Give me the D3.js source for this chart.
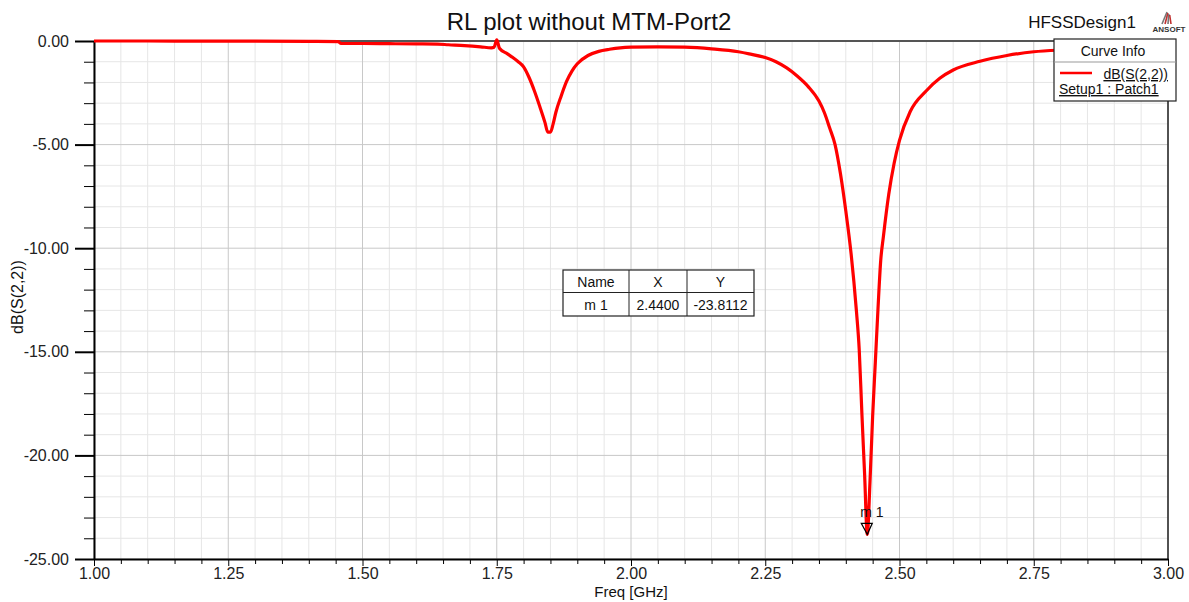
<!DOCTYPE html>
<html>
<head>
<meta charset="utf-8">
<style>
  body { margin: 0; background: #fff; }
  svg { font-family: "Liberation Sans", Arial, sans-serif; }
  .grid-minor line { stroke: #e6e6e6; stroke-width: 1; }
  .grid-major line { stroke: #c8c8c8; stroke-width: 1; }
  .axis text { font-size: 16px; fill: #222; }
  .axis path, .axis line { stroke: #000; }
</style>
</head>
<body>
<script src="https://d3js.org/d3.v7.min.js"></script>
<script>
// frequency points [GHz]
var freq = [1.00, 1.10, 1.20, 1.30, 1.40, 1.455, 1.46, 1.50, 1.55, 1.60, 1.64, 1.66, 1.69, 1.72, 1.74, 1.745,
            1.75, 1.755, 1.77, 1.78, 1.79, 1.80, 1.81, 1.82, 1.83, 1.84, 1.845, 1.85, 1.855, 1.86, 1.87, 1.88,
            1.89, 1.90, 1.92, 1.94, 1.96, 1.98, 2.00, 2.05, 2.10, 2.15, 2.20, 2.22, 2.25, 2.27, 2.29, 2.31,
            2.33, 2.35, 2.36, 2.37, 2.38, 2.39, 2.40, 2.41, 2.415, 2.42, 2.425, 2.43, 2.435, 2.44, 2.445, 2.45,
            2.455, 2.46, 2.465, 2.47, 2.48, 2.49, 2.50, 2.52, 2.55, 2.575, 2.60, 2.65, 2.70, 2.75, 2.80, 2.90, 3.00];
// dB(S(2,2))
var s22 = [0.00, 0.00, -0.01, -0.01, -0.02, -0.03, -0.12, -0.12, -0.13, -0.14, -0.15, -0.18, -0.22, -0.28, -0.33, -0.30,
           0.05, -0.35, -0.62, -0.80, -1.00, -1.25, -1.75, -2.40, -3.15, -3.95, -4.40, -4.40, -4.00, -3.45, -2.65, -1.95,
           -1.45, -1.10, -0.70, -0.50, -0.40, -0.33, -0.30, -0.28, -0.30, -0.38, -0.52, -0.62, -0.80, -1.00, -1.30, -1.70,
           -2.20, -2.90, -3.45, -4.20, -5.00, -6.40, -8.20, -10.30, -11.60, -13.10, -14.90, -18.00, -20.90, -23.81, -21.30, -18.10,
           -15.50, -12.90, -10.60, -9.44, -7.40, -5.90, -4.80, -3.40, -2.40, -1.80, -1.40, -0.98, -0.70, -0.52, -0.44, -0.38, -0.35];

var xMajor = [1.00, 1.25, 1.50, 1.75, 2.00, 2.25, 2.50, 2.75, 3.00];
var yMajor = [0, -5, -10, -15, -20, -25];
var marker = {name: "m 1", x: 2.44, y: -23.8112};

var W = 1189, H = 602;
var margin = {left: 94, top: 41, right: 21, bottom: 43};
var iw = W - margin.left - margin.right, ih = H - margin.top - margin.bottom;

var svg = d3.select("body").append("svg").attr("width", W).attr("height", H);
var g = svg.append("g").attr("transform", "translate(" + margin.left + "," + margin.top + ")");

var x = d3.scaleLinear().domain([1, 3]).range([0, iw]);
var y = d3.scaleLinear().domain([-25, 0]).range([ih, 0]);

var xMinor = d3.range(1, 3.0001, 0.05).filter(function(v) { return Math.abs((v - 1) / 0.25 - Math.round((v - 1) / 0.25)) > 1e-6; });
var yMinor = d3.range(-25, 0.001, 1).filter(function(v) { return v % 5 !== 0; });

// grid
var gmin = g.append("g").attr("class", "grid-minor");
gmin.selectAll(".vx").data(xMinor).enter().append("line")
  .attr("x1", function(d) { return x(d); }).attr("x2", function(d) { return x(d); })
  .attr("y1", 0).attr("y2", ih);
gmin.selectAll(".hy").data(yMinor).enter().append("line")
  .attr("y1", function(d) { return y(d); }).attr("y2", function(d) { return y(d); })
  .attr("x1", 0).attr("x2", iw);
var gmaj = g.append("g").attr("class", "grid-major");
gmaj.selectAll(".vx").data(xMajor).enter().append("line")
  .attr("x1", function(d) { return x(d); }).attr("x2", function(d) { return x(d); })
  .attr("y1", 0).attr("y2", ih);
gmaj.selectAll(".hy").data(yMajor).enter().append("line")
  .attr("y1", function(d) { return y(d); }).attr("y2", function(d) { return y(d); })
  .attr("x1", 0).attr("x2", iw);

// frame top / right
g.append("line").attr("x1", 0).attr("x2", iw).attr("y1", 0).attr("y2", 0).attr("stroke", "#555").attr("stroke-width", 2);
g.append("line").attr("x1", iw).attr("x2", iw).attr("y1", 0).attr("y2", ih).attr("stroke", "#222").attr("stroke-width", 1.5);

// axes
var fmt = function(d) { return d.toFixed(2); };
g.append("g").attr("class", "axis").attr("transform", "translate(0," + ih + ")")
  .call(d3.axisBottom(x).tickValues(xMinor).tickSize(5).tickFormat(""))
  .call(function(a) { a.select(".domain").remove(); });
g.append("g").attr("class", "axis").attr("transform", "translate(0," + ih + ")")
  .call(d3.axisBottom(x).tickValues(xMajor).tickSize(7).tickSizeOuter(0).tickPadding(2).tickFormat(fmt))
  .call(function(a) { a.select(".domain").attr("stroke-width", 2); });
g.append("g").attr("class", "axis")
  .call(d3.axisLeft(y).tickValues(yMinor).tickSize(10).tickFormat(""))
  .call(function(a) { a.select(".domain").remove(); });
g.append("g").attr("class", "axis")
  .call(d3.axisLeft(y).tickValues(yMajor).tickSize(19).tickSizeOuter(0).tickPadding(6).tickFormat(fmt))
  .call(function(a) { a.select(".domain").attr("stroke-width", 2); a.selectAll(".tick line").attr("stroke", "#444").attr("stroke-width", 2); });

// curve
var data = freq.map(function(f, i) { return [f, s22[i]]; });
g.append("path").datum(data)
  .attr("fill", "none").attr("stroke", "#ff0000").attr("stroke-width", 3.2).attr("stroke-linejoin", "round")
  .attr("d", d3.line().curve(d3.curveMonotoneX).x(function(d) { return x(d[0]); }).y(function(d) { return y(d[1]); }));

// marker
var mx = x(marker.x), my = y(marker.y);
g.append("path").attr("d", "M" + (mx - 6) + "," + (my - 11) + "L" + (mx + 5) + "," + (my - 11) + "L" + mx + "," + my + "Z")
  .attr("fill", "none").attr("stroke", "#000").attr("stroke-width", 1.2);
g.append("text").attr("x", mx - 7).attr("y", my - 17).attr("font-size", 14).attr("fill", "#111").text(marker.name);

// marker table
var tb = svg.append("g").attr("transform", "translate(563,270)");
var colX = [0, 66, 124, 191];
tb.append("rect").attr("width", 191).attr("height", 46).attr("fill", "#fff").attr("stroke", "#222").attr("stroke-width", 1.2);
tb.append("line").attr("x1", 0).attr("x2", 191).attr("y1", 22.5).attr("y2", 22.5).attr("stroke", "#222");
[66, 124].forEach(function(cx) {
  tb.append("line").attr("x1", cx).attr("x2", cx).attr("y1", 0).attr("y2", 46).attr("stroke", "#222");
});
var head = ["Name", "X", "Y"];
var row = [marker.name, marker.x.toFixed(4), marker.y.toFixed(4)];
head.forEach(function(t, i) {
  tb.append("text").attr("x", (colX[i] + colX[i + 1]) / 2).attr("y", 17).attr("text-anchor", "middle").attr("font-size", 14).attr("fill", "#111").text(t);
  tb.append("text").attr("x", (colX[i] + colX[i + 1]) / 2).attr("y", 40).attr("text-anchor", "middle").attr("font-size", 14).attr("fill", "#111").text(row[i]);
});

// legend
var lg = svg.append("g").attr("transform", "translate(1054,39)");
lg.append("rect").attr("width", 122).attr("height", 62).attr("fill", "#fff").attr("stroke", "#222").attr("stroke-width", 1.2);
lg.append("line").attr("x1", 0).attr("x2", 122).attr("y1", 23).attr("y2", 23).attr("stroke", "#999");
lg.append("text").attr("x", 59).attr("y", 17).attr("text-anchor", "middle").attr("font-size", 14).attr("fill", "#111").text("Curve Info");
lg.append("line").attr("x1", 6).attr("x2", 38).attr("y1", 34).attr("y2", 34).attr("stroke", "#ff0000").attr("stroke-width", 2.5);
lg.append("text").attr("x", 114).attr("y", 40).attr("text-anchor", "end").attr("font-size", 14).attr("fill", "#111")
  .attr("text-decoration", "underline").text("dB(S(2,2))");
lg.append("text").attr("x", 5).attr("y", 55).attr("font-size", 14).attr("fill", "#111")
  .attr("text-decoration", "underline").text("Setup1 : Patch1");

// titles
svg.append("text").attr("x", 589).attr("y", 30).attr("text-anchor", "middle").attr("font-size", 24).attr("fill", "#111")
  .text("RL plot without MTM-Port2");
svg.append("text").attr("x", 1082).attr("y", 28).attr("text-anchor", "middle").attr("font-size", 17).attr("fill", "#111")
  .text("HFSSDesign1");
svg.append("text").attr("x", margin.left + x(2)).attr("y", 597).attr("text-anchor", "middle").attr("font-size", 15).attr("fill", "#111")
  .text("Freq [GHz]");
svg.append("text").attr("transform", "translate(23,297) rotate(-90)").attr("text-anchor", "middle").attr("font-size", 16).attr("fill", "#111")
  .text("dB(S(2,2))");

// ANSOFT logo
var logo = svg.append("g").attr("transform", "translate(1168,12)");
[0, 3, 6, 9].forEach(function(o, i) {
  logo.append("line").attr("x1", -6 + o).attr("y1", 12).attr("x2", -1 + o * 0.3).attr("y2", 0 + i * 1)
    .attr("stroke", i % 2 ? "#c03030" : "#777").attr("stroke-width", 1.6);
});
svg.append("text").attr("x", 1169).attr("y", 32).attr("text-anchor", "middle").attr("font-size", 8).attr("font-weight", "bold")
  .attr("fill", "#333").text("ANSOFT");
</script>
</body>
</html>
